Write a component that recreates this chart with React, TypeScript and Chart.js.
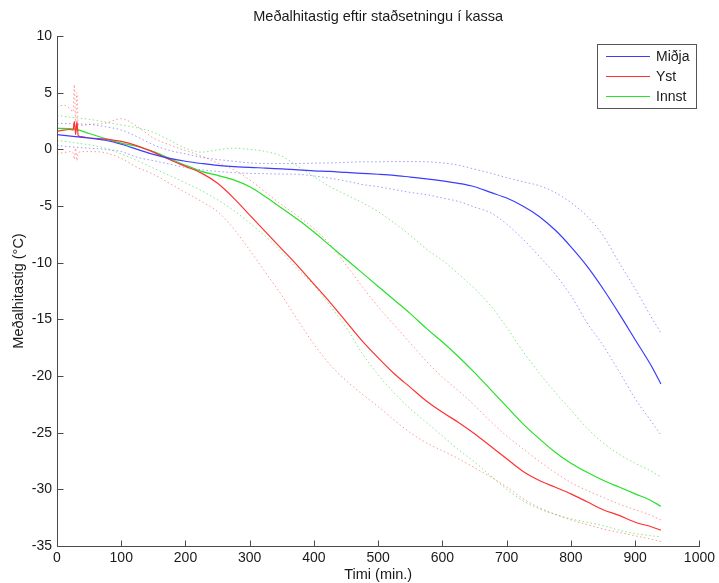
import React, { useEffect, useRef } from "react";
import { Chart, registerables } from "chart.js";

Chart.register(...registerables);

const TITLE = "Meðalhitastig eftir staðsetningu í kassa";
const X_LABEL = "Timi (min.)";
const Y_LABEL = "Meðalhitastig (°C)";
const X_TICKS = [0, 100, 200, 300, 400, 500, 600, 700, 800, 900, 1000];
const Y_TICKS = [-35, -30, -25, -20, -15, -10, -5, 0, 5, 10];
const LEGEND_LABELS = ["Miðja", "Yst", "Innst"];

// common sample times (min.)
const TIMES = [0, 25, 50, 75, 100, 125, 150, 175, 200, 225, 250, 275, 300, 325, 350, 375, 400, 425, 450, 475, 500, 525, 550, 575, 600, 625, 650, 675, 700, 725, 750, 775, 800, 825, 850, 875, 900, 925, 940];
// sample times for Yst (includes the early spikes)
const YST_TIMES = [0, 10, 20, 25, 27, 29, 31, 33, 40, 50, 75, 100, 125, 150, 175, 200, 225, 250, 275, 300, 325, 350, 375, 400, 425, 450, 475, 500, 525, 550, 575, 600, 625, 650, 675, 700, 725, 750, 775, 800, 825, 850, 875, 900, 925, 940];

const MIDJA = [1.3, 1.15, 1.0, 0.8, 0.45, 0.0, -0.45, -0.8, -1.05, -1.25, -1.42, -1.52, -1.6, -1.65, -1.72, -1.82, -1.9, -1.95, -2.04, -2.12, -2.2, -2.3, -2.45, -2.6, -2.78, -3.0, -3.3, -3.8, -4.3, -5.0, -5.9, -7.1, -8.6, -10.3, -12.3, -14.5, -16.8, -19.1, -20.7];
const MIDJA_UPPER = [2.3, 2.25, 2.2, 2.0, 1.7, 1.1, 0.4, -0.1, -0.4, -0.7, -0.9, -1.05, -1.2, -1.25, -1.25, -1.25, -1.22, -1.2, -1.15, -1.1, -1.1, -1.08, -1.08, -1.1, -1.2, -1.4, -1.75, -2.1, -2.5, -2.85, -3.2, -3.8, -4.7, -5.9, -7.6, -10.0, -12.3, -14.8, -16.2];
const MIDJA_LOWER = [0.35, 0.2, 0.1, 0.0, -0.2, -0.7, -1.0, -1.3, -1.6, -1.8, -1.95, -2.05, -2.12, -2.15, -2.18, -2.2, -2.35, -2.55, -2.8, -3.1, -3.3, -3.55, -3.8, -4.0, -4.3, -4.6, -5.1, -5.6, -6.6, -7.9, -9.4, -11.0, -12.9, -15.3, -17.3, -19.6, -22.0, -24.0, -25.2];

const YST = [1.6, 1.7, 1.75, 1.7, 2.45, 1.3, 2.45, 1.2, 1.1, 1.0, 0.9, 0.7, 0.3, -0.25, -0.9, -1.5, -2.1, -3.0, -4.3, -5.8, -7.3, -8.8, -10.3, -11.9, -13.5, -15.2, -16.9, -18.4, -19.8, -21.0, -22.2, -23.2, -24.1, -25.1, -26.2, -27.3, -28.4, -29.2, -29.8, -30.4, -31.1, -31.8, -32.3, -32.9, -33.3, -33.6];
const YST_UPPER = [3.7, 3.9, 3.6, 3.3, 5.7, 2.4, 5.0, 2.2, 2.1, 2.2, 2.3, 2.7, 2.0, 1.0, 0.4, -0.1, -0.6, -1.2, -1.8, -2.7, -3.8, -4.9, -5.9, -7.0, -8.4, -10.2, -12.1, -13.9, -15.5, -17.1, -18.7, -20.1, -21.3, -22.6, -24.0, -25.3, -26.4, -27.5, -28.5, -29.4, -30.1, -30.7, -31.3, -31.8, -32.3, -32.7];
const YST_LOWER = [-0.35, -0.3, -0.2, -0.3, -0.9, 0.1, -1.0, -0.3, -0.2, -0.2, -0.3, -0.8, -1.6, -2.2, -3.0, -3.8, -4.6, -5.5, -7.0, -8.9, -10.9, -12.9, -15.1, -17.2, -19.0, -20.4, -21.6, -22.7, -23.9, -25.0, -25.9, -26.6, -27.3, -28.1, -28.9, -29.8, -30.8, -31.6, -32.2, -32.7, -33.1, -33.5, -33.8, -34.1, -34.4, -34.6];

const INNST = [1.85, 1.8, 1.4, 0.95, 0.55, 0.25, -0.2, -0.8, -1.4, -1.95, -2.3, -2.7, -3.3, -4.2, -5.2, -6.2, -7.3, -8.5, -9.7, -10.9, -12.1, -13.3, -14.5, -15.8, -17.0, -18.3, -19.7, -21.2, -22.7, -24.2, -25.5, -26.7, -27.7, -28.5, -29.2, -29.8, -30.4, -31.0, -31.5];
const INNST_UPPER = [3.0, 2.8, 2.65, 2.4, 2.15, 1.9, 1.5, 0.8, 0.1, -0.25, -0.05, 0.1, 0.0, -0.2, -0.6, -1.5, -2.4, -3.3, -4.0, -4.7, -5.5, -6.5, -7.6, -8.8, -9.8, -11.0, -12.3, -13.8, -15.7, -17.8, -19.7, -21.4, -23.0, -24.6, -25.9, -26.9, -27.7, -28.4, -28.9];
const INNST_LOWER = [0.8, 0.6, 0.4, 0.1, -0.4, -1.0, -1.65, -2.3, -2.95, -3.65, -4.45, -5.4, -6.5, -7.7, -9.1, -10.6, -12.0, -13.8, -15.7, -18.0, -19.9, -21.5, -22.9, -24.1, -25.3, -26.5, -27.6, -28.8, -30.0, -31.0, -31.7, -32.2, -32.6, -32.9, -33.2, -33.6, -33.9, -34.1, -34.2];

const FONT = "'Liberation Sans', Arial, Helvetica, sans-serif";
const TICK_SIZE = 14;
const LABEL_SIZE = 14.5;
const TEXT_COLOR = "#1a1a1a";
const AXIS_COLOR = "#4a4a4a";
const BLUE = "rgb(60,60,255)";
const RED = "rgb(255,50,50)";
const GREEN = "rgb(40,225,40)";
const BLUE_DOT = "rgba(90,90,255,0.6)";
const RED_DOT = "rgba(255,70,70,0.55)";
const GREEN_DOT = "rgba(50,220,50,0.6)";

const pts = (xs: number[], ys: number[]) => xs.map((x, i) => ({ x, y: ys[i] }));

const axesPlugin = {
  id: "matlabAxes",
  afterDatasetsDraw(chart: any) {
    const { ctx, chartArea, scales } = chart;
    const L = Math.round(chartArea.left) + 0.5;
    const B = Math.round(chartArea.bottom) + 0.5;
    ctx.save();
    ctx.strokeStyle = AXIS_COLOR;
    ctx.lineWidth = 1;
    ctx.beginPath();
    ctx.moveTo(L, Math.round(chartArea.top));
    ctx.lineTo(L, B);
    ctx.lineTo(Math.round(chartArea.right) + 1, B);
    ctx.stroke();
    ctx.beginPath();
    scales.x.ticks.forEach((t: any) => {
      const x = Math.round(scales.x.getPixelForValue(t.value)) + 0.5;
      ctx.moveTo(x, B);
      ctx.lineTo(x, B - 6);
    });
    scales.y.ticks.forEach((t: any) => {
      const y = Math.round(scales.y.getPixelForValue(t.value)) + 0.5;
      ctx.moveTo(L, y);
      ctx.lineTo(L + 6, y);
    });
    ctx.stroke();
    ctx.restore();
  },
  afterDraw(chart: any) {
    const { ctx, chartArea } = chart;
    ctx.save();
    ctx.fillStyle = TEXT_COLOR;
    ctx.font = `${LABEL_SIZE}px ${FONT}`;
    ctx.textAlign = "center";
    ctx.textBaseline = "middle";
    ctx.fillText(TITLE, (chartArea.left + chartArea.right) / 2, 17);
    const bx = 597, by = 44, bw = 99, bh = 64;
    ctx.fillStyle = "#ffffff";
    ctx.fillRect(bx, by, bw, bh);
    ctx.strokeStyle = "#555555";
    ctx.lineWidth = 1;
    ctx.strokeRect(bx + 0.5, by + 0.5, bw, bh);
    const colors = [BLUE, RED, GREEN];
    ctx.font = `${TICK_SIZE}px ${FONT}`;
    LEGEND_LABELS.forEach((lab, i) => {
      const y = by + 12 + i * 20;
      ctx.strokeStyle = colors[i];
      ctx.beginPath();
      ctx.moveTo(606, y + 0.5);
      ctx.lineTo(650, y + 0.5);
      ctx.stroke();
      ctx.fillStyle = TEXT_COLOR;
      ctx.textAlign = "left";
      ctx.textBaseline = "middle";
      ctx.fillText(lab, 656, y + 1);
    });
    ctx.restore();
  },
};

export default function App() {
  const ref = useRef<HTMLCanvasElement | null>(null);
  useEffect(() => {
    if (!ref.current) return;
    const solid = (label: string, data: any[], color: string) => ({
      label, data, borderColor: color, backgroundColor: color, borderWidth: 1.2,
      pointRadius: 0, fill: false, cubicInterpolationMode: "monotone" as const,
    });
    const dotted = (label: string, data: any[], color: string) => ({
      label, data, borderColor: color, backgroundColor: color, borderWidth: 1,
      borderDash: [1.5, 2.5], pointRadius: 0, fill: false, cubicInterpolationMode: "monotone" as const,
    });
    const chart = new Chart(ref.current, {
      type: "line",
      data: {
        datasets: [
          solid(LEGEND_LABELS[0], pts(TIMES, MIDJA), BLUE),
          solid(LEGEND_LABELS[1], pts(YST_TIMES, YST), RED),
          solid(LEGEND_LABELS[2], pts(TIMES, INNST), GREEN),
          dotted("Miðja efri", pts(TIMES, MIDJA_UPPER), BLUE_DOT),
          dotted("Miðja neðri", pts(TIMES, MIDJA_LOWER), BLUE_DOT),
          dotted("Yst efri", pts(YST_TIMES, YST_UPPER), RED_DOT),
          dotted("Yst neðri", pts(YST_TIMES, YST_LOWER), RED_DOT),
          dotted("Innst efri", pts(TIMES, INNST_UPPER), GREEN_DOT),
          dotted("Innst neðri", pts(TIMES, INNST_LOWER), GREEN_DOT),
        ],
      },
      options: {
        responsive: false,
        animation: false,
        layout: { padding: { top: 36, right: 17, left: 0, bottom: 0 } },
        plugins: { legend: { display: false }, title: { display: false }, tooltip: { enabled: false } },
        scales: {
          x: {
            type: "linear",
            min: 0,
            max: 1000,
            grid: { display: false, drawTicks: false },
            border: { display: false },
            afterBuildTicks: (s: any) => { s.ticks = X_TICKS.map((v) => ({ value: v })); },
            afterFit: (s: any) => { s.height = 37; },
            ticks: { padding: 4, color: TEXT_COLOR, font: { family: FONT, size: TICK_SIZE }, maxRotation: 0, autoSkip: false, callback: (v: any) => String(v) },
            title: { display: true, text: X_LABEL, color: TEXT_COLOR, font: { family: FONT, size: LABEL_SIZE }, padding: { top: 0, bottom: -1 } },
          },
          y: {
            type: "linear",
            min: -35,
            max: 10,
            grid: { display: false, drawTicks: false },
            border: { display: false },
            afterBuildTicks: (s: any) => { s.ticks = Y_TICKS.map((v) => ({ value: v })); },
            afterFit: (s: any) => { s.width = 57; },
            ticks: { padding: 5, color: TEXT_COLOR, font: { family: FONT, size: TICK_SIZE }, autoSkip: false, callback: (v: any) => String(v) },
            title: { display: true, text: Y_LABEL, color: TEXT_COLOR, font: { family: FONT, size: LABEL_SIZE }, padding: { top: 10, bottom: 0 } },
          },
        },
      },
      plugins: [axesPlugin],
    });
    return () => chart.destroy();
  }, []);
  return (
    <div style={{ position: "fixed", left: 0, top: 0, width: 719, height: 583, background: "#fff" }}>
      <canvas ref={ref} width={719} height={583} style={{ width: 719, height: 583, display: "block" }} />
    </div>
  );
}
